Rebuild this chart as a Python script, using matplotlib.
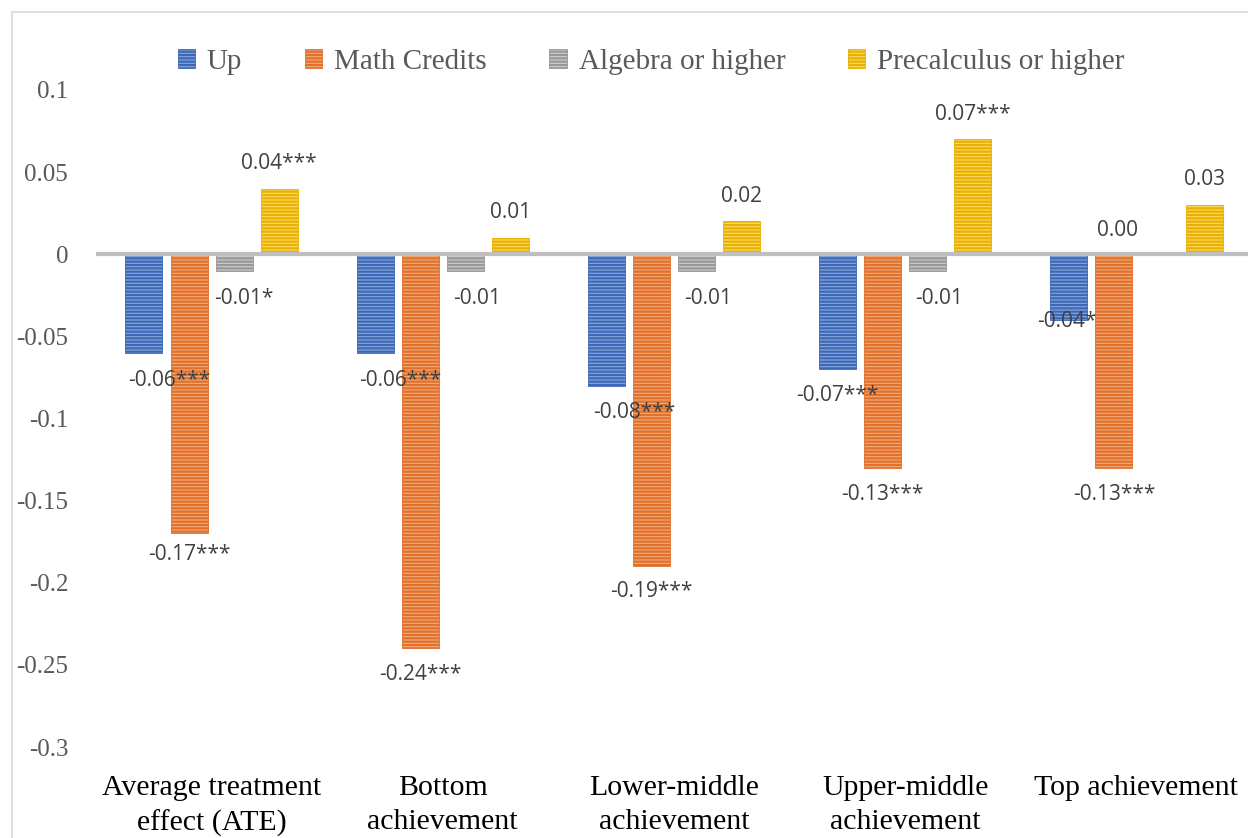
import numpy as np
import matplotlib.pyplot as plt
from matplotlib.patches import Rectangle

# data
categories = ["Average treatment\neffect (ATE)", "Bottom\nachievement", "Lower-middle\nachievement",
              "Upper-middle\nachievement", "Top achievement"]
series = ["Up", "Math Credits", "Algebra or higher", "Precalculus or higher"]
up = [-0.06, -0.06, -0.08, -0.07, -0.04]
math_credits = [-0.17, -0.24, -0.19, -0.13, -0.13]
algebra = [-0.01, -0.01, -0.01, -0.01, 0.00]
precalc = [0.04, 0.01, 0.02, 0.07, 0.03]
labels = [
    ["-0.06***", "-0.06***", "-0.08***", "-0.07***", "-0.04*"],
    ["-0.17***", "-0.24***", "-0.19***", "-0.13***", "-0.13***"],
    ["-0.01*", "-0.01", "-0.01", "-0.01", "0.00"],
    ["0.04***", "0.01", "0.02", "0.07***", "0.03"],
]

values = [up, math_credits, algebra, precalc]
face = ["#8aa8dc", "#f3ab7c", "#cfcfcf", "#ffd966"]
stripe = ["#3c68b8", "#e0702a", "#979797", "#e8b000"]

# label offsets (x in category units, y in points)
dx = [
    [0.11, 0.11, 0.12, 0.0, -0.01],
    [0.0, 0.0, 0.0, 0.0, 0.0],
    [0.04, 0.05, 0.05, 0.05, -0.18],
    [0.0, 0.0, 0.0, 0.0, 0.0],
]
dy = [
    [-20, -20, -19, -19, -1],
    [-15, -19, -18, -19, -19],
    [-20, -20, -20, -20, 17],
    [18, 18, 18, 18, 18],
]

plt.rcParams['hatch.linewidth'] = 1.6

fig = plt.figure(figsize=(12.48, 8.38), dpi=100)
ax = fig.add_axes([96 / 1248, 1 - 747 / 838, (1252 - 96) / 1248, (747 - 90) / 838])

x = np.arange(len(categories))
width = 0.16
step = 0.195
for i, vals in enumerate(values):
    pos = x + (i - 1.5) * step
    plt.rcParams['hatch.color'] = stripe[i]
    ax.bar(pos, vals, width, color=face[i], hatch='-----', edgecolor=stripe[i],
           linewidth=0.6, label=series[i], zorder=2)
    for j, v in enumerate(vals):
        ax.annotate(labels[i][j], (pos[j] + dx[i][j], v), xytext=(0, dy[i][j]),
                    textcoords='offset points', ha='center', va='center',
                    fontsize=15, color='#404040', family='Open Sans', zorder=4)

ax.axhline(0, color='#bfbfbf', lw=3, zorder=3)
ax.set_ylim(-0.3, 0.1)
ax.set_xlim(-0.5, len(categories) - 0.5)
ax.set_yticks([0.1, 0.05, 0, -0.05, -0.1, -0.15, -0.2, -0.25, -0.3])
ax.set_yticklabels(["0.1", "0.05", "0", "-0.05", "-0.1", "-0.15", "-0.2", "-0.25", "-0.3"],
                   family='Liberation Serif', fontsize=18, color='#595959')
ax.set_xticks(x)
ax.set_xticklabels(categories, family='Liberation Serif', fontsize=21.5, color='black',
                   linespacing=1.42, va='top')
ax.tick_params(length=0)
ax.tick_params(axis='y', pad=20)
ax.tick_params(axis='x', pad=20)
for s in ax.spines.values():
    s.set_visible(False)
ax.patch.set_alpha(0)

fig.patches.append(Rectangle((12 / 1248, -0.1), 1.2, 1 - 12 / 838 + 0.1, transform=fig.transFigure,
                             fill=False, edgecolor='#d9d9d9', lw=1.2))

leg = fig.legend(loc='center', bbox_to_anchor=(651 / 1248, 1 - 62 / 838), ncol=4, frameon=False,
                 prop={'family': 'Liberation Serif', 'size': 21}, handlelength=0.6,
                 handleheight=0.6, handletextpad=0.4, columnspacing=2.15)
for t in leg.get_texts():
    t.set_color('#595959')

fig.savefig("out.png", dpi=100)
